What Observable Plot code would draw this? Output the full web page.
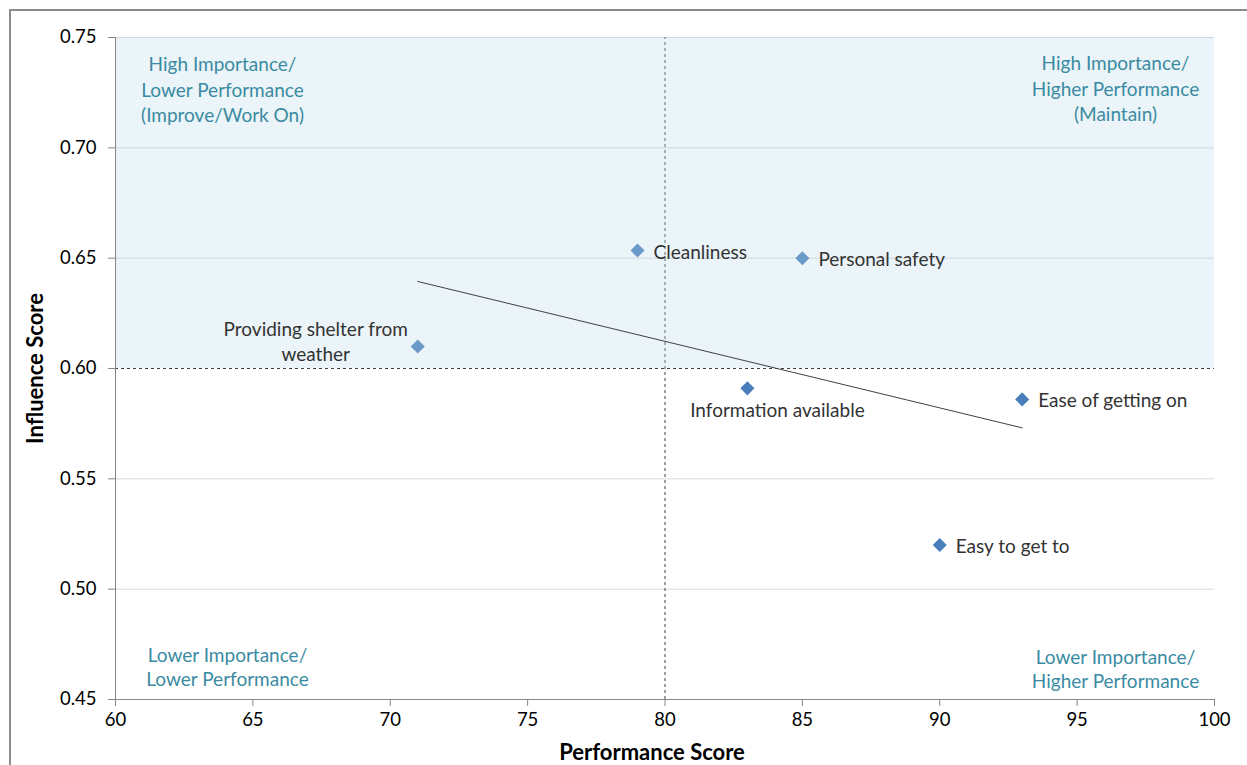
<!DOCTYPE html>
<html>
<head>
<meta charset="utf-8">
<script src="https://cdn.jsdelivr.net/npm/d3@7"></script>
<script src="https://cdn.jsdelivr.net/npm/@observablehq/plot@0.6"></script>
<style>
  html, body { margin: 0; padding: 0; background: #fff; }
  #wrap { position: relative; width: 1247px; height: 765px; overflow: hidden; }
  #border { position: absolute; left: 9px; top: 9px; width: 1400px; height: 900px;
            border-left: 2px solid #8c8c8c; border-top: 2px solid #8c8c8c; pointer-events: none; }
  svg { display: block; }
</style>
</head>
<body>
<div id="wrap"><div id="border"></div><div id="chart"></div></div>
<script>
// ---- data ----
const attributes = ["Cleanliness", "Personal safety", "Providing shelter from weather", "Information available", "Ease of getting on", "Easy to get to"];
const performance = [79, 85, 71, 83, 93, 90];
const influence = [0.6535, 0.650, 0.610, 0.591, 0.586, 0.520];
const xTicks = [60, 65, 70, 75, 80, 85, 90, 95, 100];
const yTicks = [0.45, 0.50, 0.55, 0.60, 0.65, 0.70, 0.75];
const perfThreshold = 80;
const inflThreshold = 0.60;
const xDomain = [60, 100];
const yDomain = [0.45, 0.75];
const quadrantLabels = {
  tl: "High Importance/\nLower Performance\n(Improve/Work On)",
  tr: "High Importance/\nHigher Performance\n(Maintain)",
  bl: "Lower Importance/\nLower Performance",
  br: "Lower Importance/\nHigher Performance"
};

const data = attributes.map((name, i) => ({name, x: performance[i], y: influence[i]}));

const diamond = {
  draw(ctx, size) {
    const r = Math.sqrt(size / 2);
    ctx.moveTo(0, -r); ctx.lineTo(r, 0); ctx.lineTo(0, r); ctx.lineTo(-r, 0); ctx.closePath();
  }
};

const rightLabels = ["Cleanliness", "Personal safety", "Ease of getting on", "Easy to get to"];
const teal = "#3A8BA2";
const font = "Lato, 'Open Sans', sans-serif";
const fs = 19;

const chart = Plot.plot({
  width: 1247,
  height: 765,
  marginLeft: 115,
  marginRight: 33,
  marginTop: 37,
  marginBottom: 66,
  style: {fontFamily: font, fontSize: "17px", background: "transparent"},
  x: {domain: xDomain, ticks: xTicks},
  y: {domain: yDomain, ticks: yTicks},
  marks: [
    Plot.gridY(yTicks.filter(t => t !== inflThreshold && t !== yDomain[0]), {stroke: "#d9d9d9", strokeOpacity: 1}),
    Plot.ruleX([perfThreshold], {y1: yDomain[0], y2: yDomain[1], stroke: "#404040", strokeDasharray: "3,3"}),
    Plot.ruleY([inflThreshold], {x1: xDomain[0], x2: xDomain[1], stroke: "#404040", strokeDasharray: "3,3"}),
    Plot.dot(data, {x: "x", y: "y", symbol: diamond, r: 5.6, fill: "#4A7EBB", stroke: "none"}),
    Plot.rect([{x1: xDomain[0], x2: xDomain[1], y1: inflThreshold, y2: yDomain[1]}],
      {x1: "x1", x2: "x2", y1: "y1", y2: "y2", fill: "rgb(188,218,232)", fillOpacity: 0.3}),
    Plot.linearRegressionY(data, {x: "x", y: "y", stroke: "#404040", strokeWidth: 1, ci: 0}),
    Plot.ruleX([xDomain[0]], {stroke: "#868686"}),
    Plot.ruleY([yDomain[0]], {stroke: "#868686"}),
    Plot.axisX({ticks: xTicks, tickSize: 7, tickPadding: 6, stroke: "#868686", fill: "#000", fontSize: 18.5,
      label: "Performance Score", labelAnchor: "center", labelArrow: "none", labelOffset: 60}),
    Plot.axisY({ticks: yTicks, tickSize: 7, tickPadding: 12, stroke: "#868686", fill: "#000", fontSize: 18.5,
      tickFormat: d3.format(".2f"),
      label: "Influence Score", labelAnchor: "center", labelArrow: "none", labelOffset: 88}),
    Plot.text(data.filter(d => rightLabels.includes(d.name)), {x: "x", y: "y", text: "name", textAnchor: "start", dx: 16, dy: 2, fill: "#333", fontSize: fs}),
    Plot.text(data.filter(d => d.name === "Providing shelter from weather"), {x: "x", y: "y", text: "name", textAnchor: "middle", lineWidth: 11, lineHeight: 1.32, dx: -102, dy: -6, fill: "#333", fontSize: fs}),
    Plot.text(data.filter(d => d.name === "Information available"), {x: "x", y: "y", text: "name", textAnchor: "middle", dx: 30, dy: 23, fill: "#333", fontSize: fs}),
    Plot.text([quadrantLabels.tl], {frameAnchor: "top-left", text: d => d, textAnchor: "middle", lineAnchor: "middle", lineHeight: 1.32, dx: 107, dy: 51, fill: teal, fontSize: fs}),
    Plot.text([quadrantLabels.tr], {frameAnchor: "top-right", text: d => d, textAnchor: "middle", lineAnchor: "middle", lineHeight: 1.32, dx: -99, dy: 50, fill: teal, fontSize: fs}),
    Plot.text([quadrantLabels.bl], {frameAnchor: "bottom-left", text: d => d, textAnchor: "middle", lineAnchor: "middle", lineHeight: 1.27, dx: 112, dy: -33, fill: teal, fontSize: fs}),
    Plot.text([quadrantLabels.br], {frameAnchor: "bottom-right", text: d => d, textAnchor: "middle", lineAnchor: "middle", lineHeight: 1.27, dx: -99, dy: -31, fill: teal, fontSize: fs})
  ]
});
// bold axis titles
chart.querySelectorAll("g[aria-label='x-axis label'] text").forEach(t => {
  t.setAttribute("font-weight", "bold");
  t.setAttribute("font-size", "22");
  t.setAttribute("dx", "-13");
});
chart.querySelectorAll("g[aria-label='y-axis label'] text").forEach(t => {
  t.setAttribute("font-weight", "bold");
  t.setAttribute("font-size", "22");
});
document.getElementById("chart").appendChild(chart);
</script>
</body>
</html>
